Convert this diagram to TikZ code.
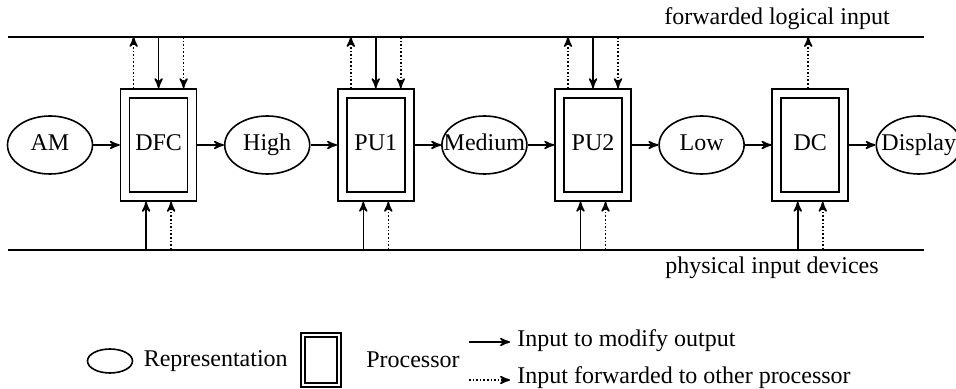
\documentclass[tikz,border=0pt]{standalone}
\usepackage{fontspec}
\setmainfont{Liberation Serif}
\usetikzlibrary{positioning}
\usetikzlibrary{arrows}
\usetikzlibrary{shapes.geometric}
\tikzset{edge/.style = {->,> = stealth'}}
\tikzset{fwd/.style = {edge, densely dotted}}
\tikzset{proc/.style = {draw, minimum width=38pt, minimum height=56pt, inner sep=0pt,
    path picture={\draw[solid] ([shift={(#1,#1)}]path picture bounding box.south west)
      rectangle ([shift={(-#1,-#1)}]path picture bounding box.north east);}},
  proc/.default=4.5pt}

\begin{document}
\begin{tikzpicture}[x=1pt,y=1pt,node distance=54.3pt,thick,
    every node/.style={font=\fontsize{12}{14}\selectfont},
    every label/.style={text height=8pt,text depth=2.5pt},
    rep/.style={ellipse,draw,minimum width=42.5pt,minimum height=29pt,inner sep=0pt}]
    \useasboundingbox (0,0) rectangle (478,-194.5);

    % input lines
    \draw (4,-18.5) coordinate (top) -- (462,-18.5);
    \draw (4,-125) coordinate (bot) -- (462,-125);
    \node (fli) at (388.5,-9.5) {forwarded logical input};
    \node (pid) at (386,-134) {physical input devices};

    % pipeline
    \node[rep,label=center:AM] (am) at (25,-72.5) {};
    \node[proc,text height=8pt,text depth=2.5pt] (dfc) [right of=am] {DFC};
    \node[rep,label=center:High] (high) [right of=dfc] {};
    \node[proc,text height=8pt,text depth=2.5pt] (pu1) [right of=high] {PU1};
    \node[rep,label=center:Medium] (med) [right of=pu1] {};
    \node[proc,text height=8pt,text depth=2.5pt] (pu2) [right of=med] {PU2};
    \node[rep,label=center:Low] (low) [right of=pu2] {};
    \node[proc,text height=8pt,text depth=2.5pt] (dc) [right of=low] {DC};
    \node[rep,label=center:Display] (disp) [right of=dc] {};

    \foreach \a/\b in {am/dfc,dfc/high,high/pu1,pu1/med,med/pu2,pu2/low,low/dc,dc/disp}
        \draw[edge] (\a) -- (\b);

    \foreach \p in {dfc,pu1,pu2}{
        \draw[fwd] ([xshift=-12.5pt]\p.north) coordinate (s) -- (s |- top);
        \draw[edge] (\p.north |- top) -- (\p.north);
        \draw[fwd,<-] ([xshift=12.5pt]\p.north) coordinate (s) -- (s |- top);
    }
    \draw[fwd] ([xshift=-1pt]dc.north) coordinate (s) -- (s |- top);
    \foreach \p in {dfc,pu1,pu2,dc}{
        \draw[edge,<-] ([xshift=-6.25pt]\p.south) coordinate (s) -- (s |- bot);
        \draw[fwd,<-] ([xshift=6.25pt]\p.south) coordinate (s) -- (s |- bot);
    }

    % legend
    \node[rep,minimum width=22.5pt,minimum height=12pt] (lrep) at (55,-180.5) {};
    \node (lrept) [right=1.5pt of lrep] {Representation};
    \node[proc=2pt,minimum width=20pt,minimum height=27pt] (lproc) at (160.5,-180) {};
    \node (lproct) [right=8.5pt of lproc] {Processor};
    \node[anchor=west] (lmod) at (255,-170.5) {Input to modify output};
    \node[anchor=west] (lfwd) at (255,-189) {Input forwarded to other processor};
    \coordinate (m0) at (234.5,-171);
    \coordinate (f0) at (234.5,-190);
    \draw[edge] (m0) -- (m0 -| lmod.west);
    \draw[fwd] (f0) -- (f0 -| lfwd.west);
\end{tikzpicture}
\end{document}
